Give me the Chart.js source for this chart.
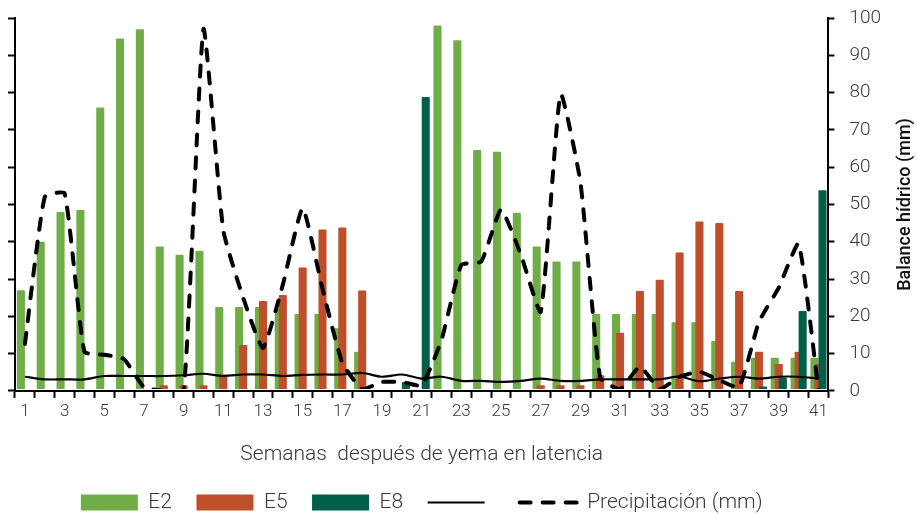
<!DOCTYPE html>
<html>
<head>
<meta charset="utf-8">
<script src="https://cdn.jsdelivr.net/npm/chart.js@4.4.1/dist/chart.umd.min.js"></script>
<style>
html,body{margin:0;padding:0;background:#fff;}
#wrap{position:relative;width:917px;height:514px;}
</style>
</head>
<body>
<div id="wrap"><canvas id="c" width="917" height="514"></canvas></div>
<script>
// ---- data ----
const weeks = ['1','2','3','4','5','6','7','8','9','10','11','12','13','14','15','16','17','18','19','20','21',
  '22','23','24','25','26','27','28','29','30','31','32','33','34','35','36','37','38','39','40','41'];
const seriesNames = ['E2', 'E5', 'E8', '', 'Precipitación (mm)'];
const e2Values = [27, 40, 48, 48.5, 76, 94.5, 97, 38.7, 36.5, 37.5, 22.5, 22.5, 22.5, 22, 20.6, 20.6, 16.8, 10.5, 0, 0, 0,
  98, 94, 64.6, 64.1, 47.8, 38.7, 34.7, 34.7, 20.6, 20.6, 20.6, 20.6, 18.4, 18.4, 13.4, 7.8, 8.9, 8.9, 8.9, 8.9];
const e5Values = [0, 0, 0, 0, 0, 0, 0, 1.5, 1.5, 1.5, 4.4, 12.3, 24.1, 25.7, 33.1, 43.3, 43.8, 26.9, 0, 0, 0,
  0, 0, 0, 0, 0, 1.5, 1.5, 1.5, 4.2, 15.6, 26.8, 29.8, 37.1, 45.4, 45, 26.8, 10.5, 7.2, 10.5, 7.2];
const e8Values = [0, 0, 0, 0, 0, 0, 0, 0, 0, 0, 0, 0, 0, 0, 0, 0, 0, 0, 0, 2.4, 78.8,
  0, 0, 0, 0, 0, 0, 0, 0, 0, 0, 0, 0, 0, 0, 0, 0, 1.2, 3.5, 21.4, 53.8];
const solidValues = [3.8, 3.1, 3.1, 3.1, 4.0, 4.0, 4.0, 4.0, 4.2, 4.6, 4.0, 4.4, 4.4, 4.0, 4.3, 4.4, 4.4, 4.8, 3.8, 4.4, 3.3,
  3.8, 2.7, 2.7, 2.4, 2.7, 3.3, 2.7, 2.7, 3.1, 3.1, 3.1, 3.1, 3.8, 2.6, 3.3, 3.8, 3.3, 3.8, 3.8, 3.3];
const precipValues = [12.6, 52, 53, 10.5, 9.7, 8.5, 1, 0, 0, 97, 43, 25, 11.5, 28.5, 49, 27.4, 7.5, 0.5, 2.4, 2.4, 1.5,
  13.7, 33.8, 34.7, 48.6, 36.5, 21.2, 79.6, 56, 3.5, 0.5, 6.5, 0.5, 3.8, 5.1, 2.9, 1, 18.5, 27.7, 39.5, 0.2];
const yTicks = [0, 10, 20, 30, 40, 50, 60, 70, 80, 90, 100];
const xTitle = 'Semanas  después de yema en latencia';
const yTitle = 'Balance hídrico (mm)';

const FONT = 'Roboto, "Liberation Sans", sans-serif';
const TXT = '#3a3a3a';

// draw bars so that later series sit on top (E2 < E5 < E8), then lines on top
const drawOrderPlugin = {
  id: 'drawOrder',
  beforeDatasetsDraw(chart) {
    const ctx = chart.ctx, a = chart.chartArea;
    for (let i = 0; i < chart.data.datasets.length; i++) {
      if (!chart.isDatasetVisible(i)) continue;
      const meta = chart.getDatasetMeta(i);
      ctx.save();
      ctx.beginPath();
      ctx.rect(a.left, a.top - 4, a.right - a.left, a.bottom - a.top + 2);
      ctx.clip();
      meta.controller.draw();
      ctx.restore();
    }
    return false;
  }
};

// right-hand axis title reading bottom-to-top
const rightTitlePlugin = {
  id: 'rightTitle',
  afterDraw(chart, args, opts) {
    const ctx = chart.ctx, a = chart.chartArea;
    ctx.save();
    ctx.translate(opts.x, (a.top + a.bottom) / 2);
    ctx.rotate(-Math.PI / 2);
    ctx.font = '500 18px ' + FONT;
    ctx.fillStyle = '#111';
    ctx.textAlign = 'center';
    ctx.textBaseline = 'middle';
    ctx.fillText(opts.text, 0, 0);
    ctx.restore();
  }
};

const barCommon = { yAxisID: 'y', borderWidth: 0, barPercentage: 2.0, categoryPercentage: 0.61,
  pointStyle: 'rect', borderRadius: 1 };

new Chart(document.getElementById('c'), {
  data: {
    labels: weeks,
    datasets: [
      Object.assign({ type: 'bar', label: seriesNames[0], data: e2Values, backgroundColor: '#70AD47' }, barCommon),
      Object.assign({ type: 'bar', label: seriesNames[1], data: e5Values, backgroundColor: '#BF4F2A' }, barCommon),
      Object.assign({ type: 'bar', label: seriesNames[2], data: e8Values, backgroundColor: '#005E49' }, barCommon),
      { type: 'line', label: seriesNames[3], data: solidValues, yAxisID: 'y1', borderColor: '#000', backgroundColor: '#000',
        borderWidth: 2.2, pointRadius: 0, tension: 0.3, fill: false, pointStyle: 'line' },
      { type: 'line', label: seriesNames[4], data: precipValues, yAxisID: 'y1', borderColor: '#000', backgroundColor: '#000',
        borderWidth: 4, borderDash: [11, 12], borderCapStyle: 'round', pointRadius: 0, tension: 0.15, fill: false, pointStyle: 'line' }
    ]
  },
  options: {
    responsive: false,
    animation: false,
    devicePixelRatio: 1,
    layout: { padding: { left: 8, right: 21, top: 18, bottom: -9 } },
    plugins: {
      tooltip: { enabled: false },
      rightTitle: { text: yTitle, x: 905 },
      legend: {
        position: 'bottom',
        fullSize: false,
        labels: {
          usePointStyle: true,
          pointStyleWidth: 57,
          boxWidth: 57,
          boxHeight: 16,
          padding: 24.5,
          color: TXT,
          font: { family: FONT, size: 21, weight: '300' },
          generateLabels(chart) {
            const items = Chart.defaults.plugins.legend.labels.generateLabels(chart);
            items.forEach(it => {
              const ds = chart.data.datasets[it.datasetIndex];
              if (ds.type === 'bar') {
                it.pointStyle = 'rect'; it.lineWidth = 0; it.strokeStyle = 'rgba(0,0,0,0)';
              } else {
                it.pointStyle = 'line'; it.lineWidth = ds.borderWidth; it.strokeStyle = '#000';
                it.lineDash = ds.borderDash || []; it.lineCap = ds.borderCapStyle || 'butt';
              }
            });
            return items;
          }
        }
      }
    },
    scales: {
      x: {
        type: 'category',
        offset: true,
        grid: { offset: true, drawOnChartArea: false, drawTicks: true, tickLength: 7, tickWidth: 2, tickColor: '#000' },
        border: { color: '#000', width: 2 },
        ticks: {
          autoSkip: false, maxRotation: 0, minRotation: 0, padding: 4, color: TXT,
          font: { family: FONT, size: 17, weight: '300' },
          callback: (v, i) => (i % 2 === 0 ? weeks[i] : '')
        },
        title: { display: true, text: xTitle, color: TXT, font: { family: FONT, size: 21, weight: '300' },
          padding: { top: 16, bottom: 0 } }
      },
      y: {
        position: 'left', min: 0, max: 100,
        afterBuildTicks: s => { s.ticks = yTicks.map(v => ({ value: v })); },
        grid: { drawOnChartArea: false, drawTicks: true, tickLength: 7, tickWidth: 2, tickColor: '#000' },
        border: { color: '#000', width: 2 },
        ticks: { display: false }
      },
      y1: {
        position: 'right', min: 0, max: 100,
        afterBuildTicks: s => { s.ticks = yTicks.map(v => ({ value: v })); },
        afterFit: s => { s.paddingTop = 12; s.paddingBottom = 12; },
        grid: { drawOnChartArea: false, drawTicks: true, tickLength: 6, tickWidth: 2, tickColor: '#000' },
        border: { color: '#000', width: 2 },
        ticks: { padding: 15, color: TXT, font: { family: FONT, size: 19, weight: '300' } }
      }
    }
  },
  plugins: [drawOrderPlugin, rightTitlePlugin]
});
</script>
</body>
</html>
